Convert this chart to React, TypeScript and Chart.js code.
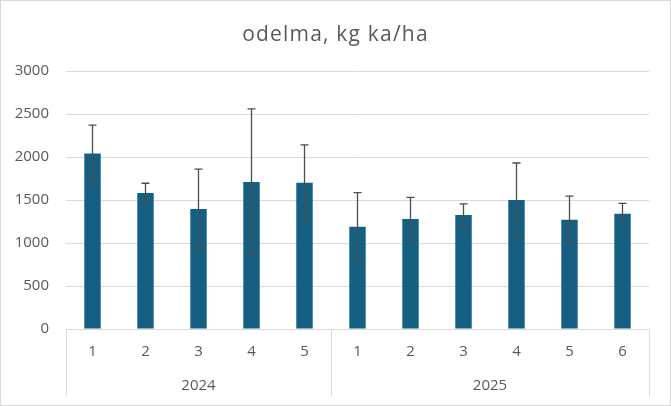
import React, { useEffect, useRef } from "react";
import { Chart, registerables } from "chart.js";

Chart.register(...registerables);

const title = "odelma, kg ka/ha";
const categories = ["1", "2", "3", "4", "5", "1", "2", "3", "4", "5", "6"];
const groups = ["2024", "2025"];
const groupCenters = [2, 7.5];
const groupBounds = [-0.5, 4.5, 10.5];
const values = [2040, 1580, 1395, 1710, 1700, 1190, 1280, 1325, 1500, 1270, 1340];
const errors = [330, 115, 465, 850, 440, 395, 250, 130, 430, 275, 120];
const yTicks = [0, 500, 1000, 1500, 2000, 2500, 3000];

const FONT = "'Open Sans', 'Liberation Sans', sans-serif";
const TEXT = "#595959";
const GRID = "#d9d9d9";

export default function App() {
  const ref = useRef<HTMLCanvasElement>(null);
  useEffect(() => {
    document.body.style.margin = "0";
    const errorBars = {
      id: "errorBars",
      afterDatasetsDraw(chart: any) {
        const { ctx } = chart;
        const x = chart.scales.x;
        const y = chart.scales.y;
        ctx.save();
        ctx.strokeStyle = "#4d4d4d";
        ctx.lineWidth = 1.3;
        values.forEach((v, i) => {
          const px = x.getPixelForValue(i);
          const top = y.getPixelForValue(v + errors[i]);
          const bot = y.getPixelForValue(v - errors[i]);
          ctx.beginPath();
          ctx.moveTo(px, top);
          ctx.lineTo(px, bot);
          ctx.moveTo(px - 4, top);
          ctx.lineTo(px + 4, top);
          ctx.moveTo(px - 4, bot);
          ctx.lineTo(px + 4, bot);
          ctx.stroke();
        });
        ctx.restore();
      },
    };
    const groupAxis = {
      id: "groupAxis",
      afterDraw(chart: any) {
        const { ctx } = chart;
        const x = chart.scales.x;
        const x2 = chart.scales.x2;
        ctx.save();
        ctx.strokeStyle = GRID;
        ctx.lineWidth = 1;
        groupBounds.forEach((b) => {
          const px = Math.round(x.getPixelForValue(b)) + 0.5;
          ctx.beginPath();
          ctx.moveTo(px, chart.chartArea.bottom);
          ctx.lineTo(px, x2.bottom);
          ctx.stroke();
        });
        ctx.beginPath();
        ctx.moveTo(x.getPixelForValue(-0.5), Math.round(chart.chartArea.bottom) + 0.5);
        ctx.lineTo(x.getPixelForValue(10.5), Math.round(chart.chartArea.bottom) + 0.5);
        ctx.stroke();
        ctx.restore();
      },
    };
    const titlePlugin = {
      id: "chartTitle",
      afterDraw(chart: any) {
        const { ctx } = chart;
        ctx.save();
        ctx.fillStyle = TEXT;
        ctx.font = `21px ${FONT}`;
        (ctx as any).letterSpacing = "1.2px";
        ctx.textAlign = "center";
        ctx.textBaseline = "alphabetic";
        ctx.fillText(title, chart.width / 2, 40);
        ctx.restore();
      },
    };
    const chart = new Chart(ref.current!, {
      type: "bar",
      data: {
        labels: categories,
        datasets: [
          {
            data: values,
            backgroundColor: "#156082",
            borderColor: "#156082",
            borderWidth: 0,
            barPercentage: 0.31,
            categoryPercentage: 1,
          },
        ],
      },
      options: {
        animation: false,
        responsive: true,
        maintainAspectRatio: false,
        layout: { padding: { left: 0, right: 0, top: 70, bottom: 9 } },
        plugins: {
          legend: { display: false },
          tooltip: { enabled: false },
          title: { display: false },
        },
        scales: {
          x: {
            type: "category",
            grid: { display: false },
            border: { display: false },
            ticks: {
              color: TEXT,
              font: { family: FONT, size: 15 },
              padding: 6,
              maxRotation: 0,
              autoSkip: false,
            },
            afterFit: (s: any) => {
              s.height = 35;
            },
          },
          x2: {
            type: "linear",
            position: "bottom",
            offset: false,
            min: -0.5,
            max: 10.5,
            grid: { display: false, offset: false },
            border: { display: false },
            afterBuildTicks: (s: any) => {
              s.ticks = groupCenters.map((v) => ({ value: v }));
            },
            ticks: {
              color: TEXT,
              font: { family: FONT, size: 15 },
              padding: 5,
              maxRotation: 0,
              autoSkip: false,
              callback: (v: any) => groups[groupCenters.indexOf(Number(v))] ?? "",
            },
            afterFit: (s: any) => {
              s.height = 32;
            },
          },
          y: {
            min: 0,
            max: 3000,
            afterBuildTicks: (s: any) => {
              s.ticks = yTicks.map((v) => ({ value: v }));
            },
            grid: { color: GRID, lineWidth: 1, drawTicks: false },
            border: { display: false },
            ticks: {
              color: TEXT,
              font: { family: FONT, size: 15 },
              padding: 17,
              callback: (v: any) => String(v),
            },
            afterFit: (s: any) => {
              s.width = 65;
            },
          },
          yRight: {
            type: "linear",
            position: "right",
            display: true,
            grid: { display: false },
            border: { display: false },
            ticks: { display: false },
            afterFit: (s: any) => {
              s.width = 21;
            },
          },
        },
      },
      plugins: [errorBars, groupAxis, titlePlugin],
    });
    return () => chart.destroy();
  }, []);
  return (
    <div
      style={{
        width: 671,
        height: 406,
        boxSizing: "border-box",
        border: "1px solid #d9d9d9",
        position: "relative",
        background: "#fff",
      }}
    >
      <canvas ref={ref} />
    </div>
  );
}
